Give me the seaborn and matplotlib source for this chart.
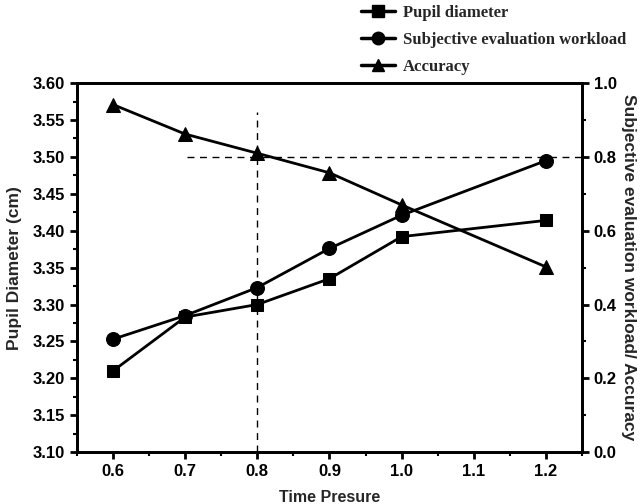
#pupil diameter / workload / accuracy vs time pressure
import numpy as np
import pandas as pd
import matplotlib
matplotlib.use('Agg')
import matplotlib.pyplot as plt
from matplotlib.lines import Line2D
from matplotlib.ticker import MultipleLocator
import seaborn as sns

time_pressure = [0.6, 0.7, 0.8, 0.9, 1.0, 1.2]
pupil_diameter = [3.210, 3.283, 3.300, 3.335, 3.392, 3.414]
subjective_workload = [0.306, 0.370, 0.446, 0.552, 0.642, 0.790]
accuracy = [0.942, 0.862, 0.810, 0.757, 0.670, 0.502]

left_df = pd.DataFrame({'time': time_pressure, 'pupil': pupil_diameter})
right_df = pd.DataFrame({'time': time_pressure * 2,
                         'value': subjective_workload + accuracy,
                         'series': ['Subjective evaluation workload'] * 6 + ['Accuracy'] * 6})

sns.set_style('ticks')
plt.rcParams['font.family'] = ['Liberation Sans', 'DejaVu Sans']
plt.rcParams['font.weight'] = 'bold'

fig = plt.figure(figsize=(6.41, 5.04), dpi=100)
ax = fig.add_axes([0.120, 0.103, 0.788, 0.732])
ax2 = ax.twinx()

sns.lineplot(data=left_df, x='time', y='pupil', ax=ax, color='black', lw=2,
             marker='s', markersize=9, markeredgecolor='black')
sns.lineplot(data=right_df, x='time', y='value', style='series', ax=ax2, color='black', lw=2,
             markers={'Subjective evaluation workload': 'o', 'Accuracy': '^'},
             dashes=False, markersize=10, markeredgecolor='black', legend=False)

ax.set_xlim(0.55, 1.25)
ax.set_ylim(3.10, 3.60)
ax2.set_ylim(0.0, 1.0)

# reference lines
ax.plot([0.8, 0.8], [3.10, 3.561], color='black', lw=1, ls=(0, (5, 4)))
ax2.plot([0.703, 1.25], [0.8, 0.8], color='black', lw=1, ls=(0, (5, 4)))

ax.xaxis.set_major_locator(MultipleLocator(0.1))
ax.xaxis.set_minor_locator(MultipleLocator(0.05))
ax.yaxis.set_major_locator(MultipleLocator(0.05))
ax.yaxis.set_minor_locator(MultipleLocator(0.025))
ax2.yaxis.set_major_locator(MultipleLocator(0.2))
ax2.yaxis.set_minor_locator(MultipleLocator(0.1))
ax.xaxis.set_major_formatter(plt.FormatStrFormatter('%.1f'))
ax.yaxis.set_major_formatter(plt.FormatStrFormatter('%.2f'))
ax2.yaxis.set_major_formatter(plt.FormatStrFormatter('%.1f'))

for a in (ax, ax2):
    for s in a.spines.values():
        s.set_visible(True)
        s.set_linewidth(2)
        s.set_color('black')
    a.tick_params(which='major', direction='out', length=5, width=2, labelsize=12, colors='black')
    a.tick_params(which='minor', direction='out', length=3, width=1.5, colors='black')
ax.tick_params(axis='y', right=False)
ax2.tick_params(axis='y', left=False)

ax.set_xlabel('Time Presure', fontsize=11.5, fontweight='bold', labelpad=8)
ax.set_ylabel('Pupil Diameter (cm)', fontsize=12.5, fontweight='bold', labelpad=8)
ax2.set_ylabel('Subjective evaluation workload/ Accuracy', fontsize=12.5, fontweight='bold',
               rotation=-90, labelpad=14)

handles = [Line2D([], [], color='black', lw=2.5, marker=m, markersize=9) for m in ['s', 'o', '^']]
labels = ['Pupil diameter', 'Subjective evaluation workload', 'Accuracy']
fig.legend(handles, labels, loc='upper left', bbox_to_anchor=(0.548, 1.01), frameon=False,
           prop={'family': 'Liberation Serif', 'weight': 'bold', 'size': 12},
           handlelength=2.0, handletextpad=0.5, labelspacing=0.65, borderaxespad=0.2)

fig.savefig('out.png', dpi=100)
